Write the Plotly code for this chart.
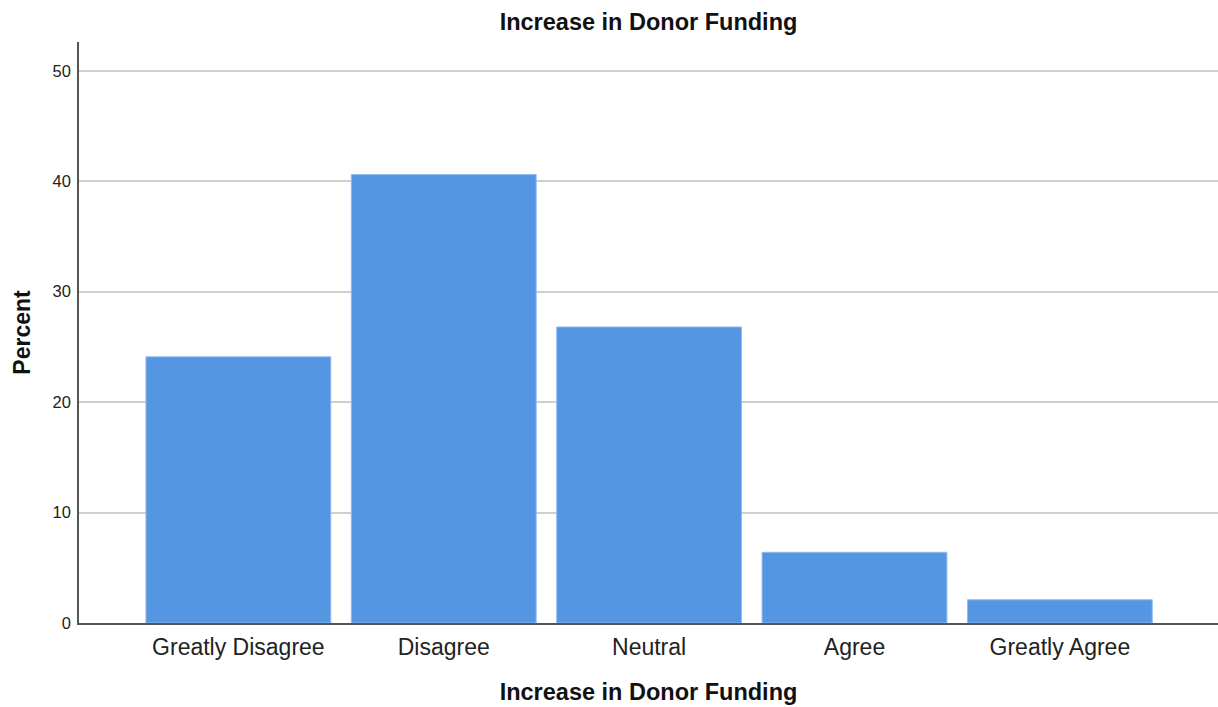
import plotly.graph_objects as go

categories = ["Greatly Disagree", "Disagree", "Neutral", "Agree", "Greatly Agree"]
percent = [24.1, 40.6, 26.8, 6.4, 2.1]
y_ticks = [0, 10, 20, 30, 40, 50]

FONT = "Liberation Sans, Arial, sans-serif"

fig = go.Figure(go.Bar(
    x=categories, y=percent,
    marker=dict(color="#5596E3", line=dict(color="#8fbcf0", width=1)),
    width=0.9,
))

fig.update_layout(
    width=1218, height=707,
    margin=dict(l=79, r=0, t=42, b=84),
    paper_bgcolor="white", plot_bgcolor="white",
    font=dict(family=FONT, color="#222"),
    title=dict(text="<b>Increase in Donor Funding</b>", x=0.5, xanchor="center",
               xref="paper", yref="container", y=1 - 22 / 707, yanchor="middle",
               font=dict(size=23.5, color="#111")),
    showlegend=False,
)
fig.update_xaxes(
    range=[-0.776, 4.77], showline=True, linecolor="#555", linewidth=1.5,
    ticks="", tickfont=dict(size=23, color="#222"), ticklabelstandoff=3,
    title=dict(text="<b>Increase in Donor Funding</b>", font=dict(size=23.5, color="#111"), standoff=24),
    showgrid=False,
)
fig.update_yaxes(
    range=[0, 52.6], tickvals=y_ticks, showline=True, linecolor="#555", linewidth=1.5,
    ticks="", tickfont=dict(size=16.5, color="#222"), ticklabelstandoff=3,
    title=dict(text="<b>Percent</b>", font=dict(size=23, color="#111"), standoff=16),
    showgrid=True, gridcolor="#cfcfcf", gridwidth=2, zeroline=False,
)

fig.write_html("out.html", config={"displayModeBar": False},
               post_script="document.body.style.margin='0';")
